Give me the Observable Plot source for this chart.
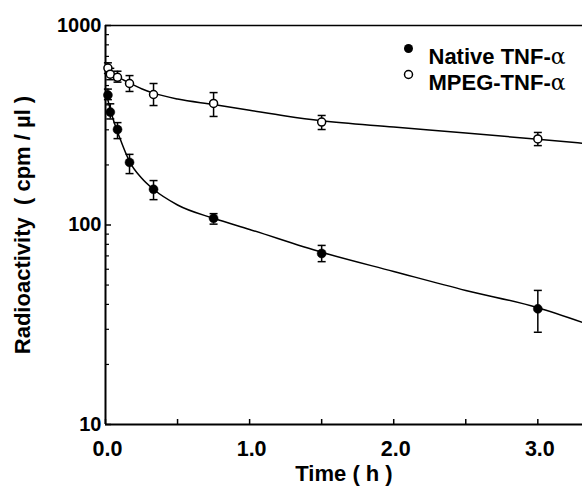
<!DOCTYPE html>
<html>
<head>
<meta charset="utf-8">
<script src="https://cdn.jsdelivr.net/npm/d3@7"></script>
<script src="https://cdn.jsdelivr.net/npm/@observablehq/plot@0.6"></script>
<style>
  html, body { margin: 0; padding: 0; background: #fff; }
  #chart svg { display: block; }
</style>
</head>
<body>
<div id="chart"></div>
<script>
// ---- data ----
const times = [0.0167, 0.0333, 0.0833, 0.1667, 0.3333, 0.75, 1.5, 3.0];
const nativeMean = [448, 368, 301, 206, 151, 108, 72, 38];
const nativeLow  = [425, 340, 271, 181, 134, 101, 65.5, 29];
const nativeHigh = [480, 405, 326, 226, 167, 114, 79, 47];
const mpegMean = [612, 570, 550, 512, 451, 407, 328, 270];
const mpegLow  = [575, 535, 520, 467, 397, 350, 301, 250];
const mpegHigh = [650, 610, 590, 561, 512, 461, 354, 291];

const nativeFitT = [0, 0.025, 0.05, 0.1, 0.167, 0.25, 0.333, 0.5, 0.75, 1.0, 1.5, 2.0, 2.5, 3.0, 3.31];
const nativeFitV = [480, 400, 345, 272, 208, 172, 151, 126, 108, 95, 73, 58.5, 47, 38.5, 32.5];
const mpegFitT = [0, 0.05, 0.1, 0.167, 0.25, 0.333, 0.5, 0.75, 1.0, 1.25, 1.5, 2.0, 2.5, 3.0, 3.31];
const mpegFitV = [615, 575, 545, 515, 482, 458, 428, 402, 376, 352, 333, 310, 289, 269, 257];

const xTickValues = [0, 0.5, 1, 1.5, 2, 2.5, 3];
const xTickLabels = ["0.0", "", "1.0", "", "2.0", "", "3.0"];
const yMajor = [10, 100, 1000];
const yMajorLabels = ["10", "100", "1000"];
const yMinor = [20, 30, 40, 50, 60, 70, 80, 90, 200, 300, 400, 500, 600, 700, 800, 900];
const xTitle = "Time ( h )";
const yTitle = "Radioactivity  ( cpm / µl )";
const legendLabels = ["Native TNF-α", "MPEG-TNF-α"];

// ---- tables ----
const nativeRows = times.map((t, i) => ({t, v: nativeMean[i], lo: nativeLow[i], hi: nativeHigh[i]}));
const mpegRows = times.map((t, i) => ({t, v: mpegMean[i], lo: mpegLow[i], hi: mpegHigh[i]}));
const nativeFit = nativeFitT.map((t, i) => ({t, v: nativeFitV[i]}));
const mpegFit = mpegFitT.map((t, i) => ({t, v: mpegFitV[i]}));

const FONT = "Liberation Sans, Arial, Helvetica, sans-serif";
const capSymbol = {draw(context) { context.moveTo(-4, 0); context.lineTo(4, 0); }};

const chart = Plot.plot({
  width: 582,
  height: 493,
  marginLeft: 105,
  marginRight: 0,
  marginTop: 25,
  marginBottom: 69,
  style: {fontFamily: FONT, background: "white", color: "black"},
  x: {domain: [0, 3.31], axis: null},
  y: {type: "log", domain: [10, 1000], axis: null},
  marks: [
    // inward ticks
    Plot.axisX({ticks: xTickValues, tickSize: -5, tickFormat: () => "", strokeWidth: 1.5, label: null}),
    Plot.axisY({ticks: yMinor, tickSize: -4, tickFormat: () => "", strokeWidth: 1.2, label: null}),
    Plot.axisY({ticks: yMajor, tickSize: -6, tickFormat: () => "", strokeWidth: 1.5, label: null}),
    // labels
    Plot.axisX({ticks: xTickValues, tickSize: 0, tickPadding: 16, label: null,
      tickFormat: d => xTickLabels[xTickValues.indexOf(d)],
      fontSize: 21.5, fontWeight: "bold", dx: 2}),
    Plot.axisY({ticks: yMajor, tickSize: 0, tickPadding: 4, label: null,
      tickFormat: d => yMajorLabels[yMajor.indexOf(d)],
      fontSize: 20, fontWeight: "bold"}),
    // frame
    Plot.ruleX([0], {strokeWidth: 2}),
    Plot.ruleY([10], {strokeWidth: 2}),
    Plot.ruleY([1000], {strokeWidth: 1.5}),
    // titles
    Plot.text([xTitle], {frameAnchor: "bottom", dy: 56, text: d => d, fontSize: 22, fontWeight: "bold"}),
    Plot.text([yTitle], {frameAnchor: "left", dx: -83, rotate: -90, textAnchor: "middle", text: d => d, fontSize: 22, fontWeight: "bold"}),
    // fitted curves
    Plot.line(nativeFit, {x: "t", y: "v", curve: "monotone-x", stroke: "black", strokeWidth: 1.5}),
    Plot.line(mpegFit, {x: "t", y: "v", curve: "monotone-x", stroke: "black", strokeWidth: 1.5}),
    // error bars
    Plot.ruleX(nativeRows, {x: "t", y1: "lo", y2: "hi", strokeWidth: 1.5}),
    Plot.ruleX(mpegRows, {x: "t", y1: "lo", y2: "hi", strokeWidth: 1.5}),
    Plot.dot(nativeRows, {x: "t", y: "lo", symbol: capSymbol, stroke: "black", fill: "none", strokeWidth: 1.5}),
    Plot.dot(nativeRows, {x: "t", y: "hi", symbol: capSymbol, stroke: "black", fill: "none", strokeWidth: 1.5}),
    Plot.dot(mpegRows, {x: "t", y: "lo", symbol: capSymbol, stroke: "black", fill: "none", strokeWidth: 1.5}),
    Plot.dot(mpegRows, {x: "t", y: "hi", symbol: capSymbol, stroke: "black", fill: "none", strokeWidth: 1.5}),
    // points
    Plot.dot(mpegRows, {x: "t", y: "v", r: 4, fill: "white", stroke: "black", strokeWidth: 1.5}),
    Plot.dot(nativeRows, {x: "t", y: "v", r: 4.5, fill: "black", stroke: "black", strokeWidth: 0.5}),
    // legend
    Plot.dot([legendLabels[0]], {frameAnchor: "top-left", dx: 303, dy: 23, r: 4.5, fill: "black"}),
    Plot.dot([legendLabels[1]], {frameAnchor: "top-left", dx: 303, dy: 49, r: 4, fill: "white", stroke: "black", strokeWidth: 1.5}),
    Plot.text([legendLabels[0]], {frameAnchor: "top-left", dx: 323, dy: 23, text: d => d, textAnchor: "start", fontSize: 22, fontWeight: "bold"}),
    Plot.text([legendLabels[1]], {frameAnchor: "top-left", dx: 323, dy: 49, text: d => d, textAnchor: "start", fontSize: 22, fontWeight: "bold"})
  ]
});

document.getElementById("chart").appendChild(chart);

// render the Greek alpha in a lighter serif face, as in the reference
chart.querySelectorAll("text").forEach(t => {
  if (t.children.length === 0 && t.textContent.endsWith("α")) {
    const s = t.textContent;
    t.textContent = s.slice(0, -1);
    const ts = document.createElementNS("http://www.w3.org/2000/svg", "tspan");
    ts.setAttribute("font-weight", "normal");
    ts.setAttribute("font-family", "DejaVu Serif, serif");
    ts.textContent = "α";
    t.appendChild(ts);
  }
});
</script>
</body>
</html>
